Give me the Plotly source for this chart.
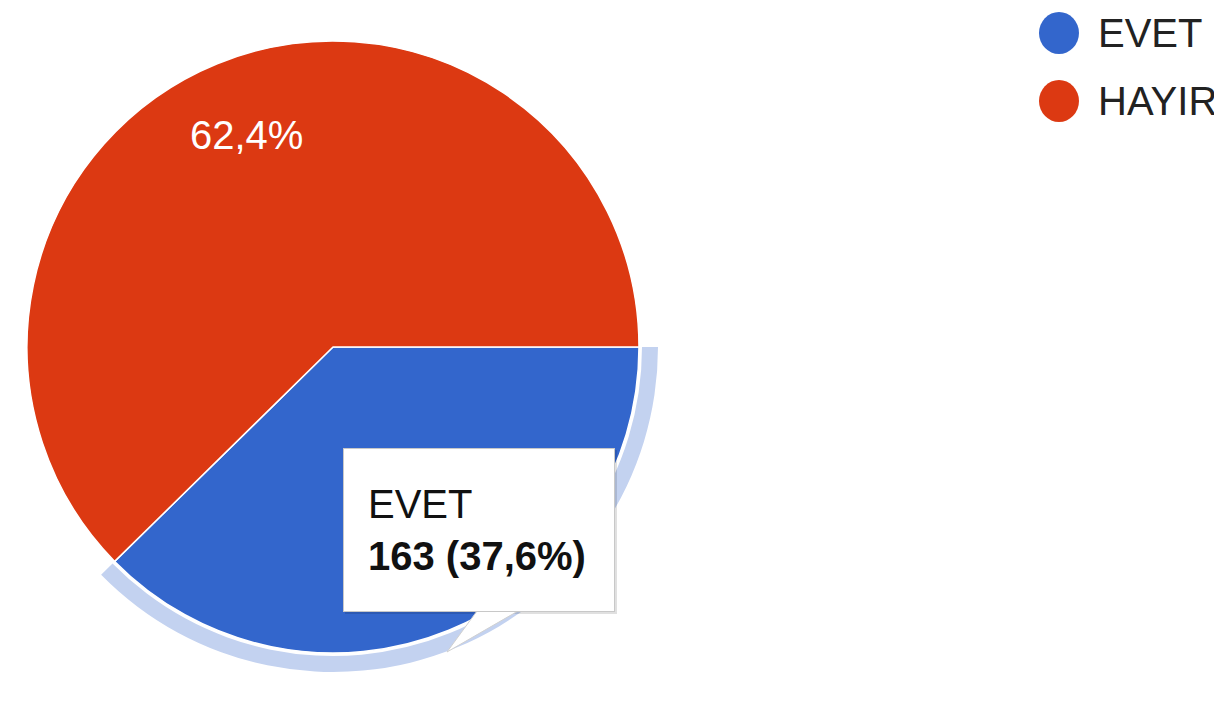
import math
import plotly.graph_objects as go

categories = ["EVET", "HAYIR"]
counts = [163, 270]
colors = ["#3366cc", "#dc3912"]
ring_color = "#c3d2f0"
tooltip_category = "EVET"
label_categories = ["HAYIR"]

W, H = 1222, 707
OFF = 8  # default page body margin
FW, FH = W - OFF, H - OFF

def px_x(v):
    return (v - OFF) / FW

def px_y(v):
    return 1 - (v - OFF) / FH

# pie geometry (page pixels)
cx, cy = 333, 347
R_main = 306
R_ring_in = 309
R_ring_out = 325

ROT = 90  # first slice starts at 3 o'clock, clockwise

fig = go.Figure()

# hover ring (highlight for EVET)
fig.add_trace(go.Pie(
    labels=categories,
    values=counts,
    sort=False,
    direction="clockwise",
    rotation=ROT,
    hole=R_ring_in / R_ring_out,
    marker=dict(colors=[ring_color if c == tooltip_category else "rgba(0,0,0,0)" for c in categories],
                line=dict(width=0)),
    textinfo="none",
    hoverinfo="skip",
    showlegend=False,
    domain=dict(x=[px_x(cx - R_ring_out), px_x(cx + R_ring_out)],
                y=[px_y(cy + R_ring_out), px_y(cy - R_ring_out)]),
))

# main pie
fig.add_trace(go.Pie(
    labels=categories,
    values=counts,
    sort=False,
    direction="clockwise",
    rotation=ROT,
    marker=dict(colors=colors, line=dict(color="white", width=1.5)),
    textinfo="none",
    showlegend=False,
    domain=dict(x=[px_x(cx - R_main), px_x(cx + R_main)],
                y=[px_y(cy + R_main), px_y(cy - R_main)]),
))

font_family = "Arial, Liberation Sans, sans-serif"
shapes = []
annotations = []

# slice percentage labels, placed at each slice's mid-angle
total = sum(counts)
start = ROT
for cat, val in zip(categories, counts):
    span = val / total * 360
    mid = start + span / 2
    start += span
    if cat not in label_categories:
        continue
    f = 0.75
    lx = cx + math.sin(math.radians(mid)) * f * R_main
    ly = cy - math.cos(math.radians(mid)) * f * R_main
    txt = f"{val / total * 100:.1f}".replace(".", ",") + "%"
    annotations.append(dict(text=txt, xref="paper", yref="paper",
                            x=px_x(lx), y=px_y(ly), xanchor="center", yanchor="middle",
                            showarrow=False,
                            font=dict(family=font_family, size=40, color="white")))

# manual legend with circular markers
leg_y = [33, 101]
for cat, col, yy in zip(categories, colors, leg_y):
    shapes.append(dict(type="circle", xref="paper", yref="paper",
                       x0=px_x(1039), x1=px_x(1079), y0=px_y(yy + 21), y1=px_y(yy - 21),
                       fillcolor=col, line=dict(width=0)))
    annotations.append(dict(text=cat, xref="paper", yref="paper",
                            x=px_x(1096), y=px_y(yy), xanchor="left", yanchor="middle",
                            showarrow=False,
                            font=dict(family=font_family, size=40, color="#222222")))

# tooltip
idx = categories.index(tooltip_category)
pct = f"{counts[idx] / total * 100:.1f}".replace(".", ",")
tip_text = f"{tooltip_category}<br><b>{counts[idx]} ({pct}%)</b>"

# tooltip shadow
shapes.append(dict(type="rect", xref="paper", yref="paper",
                   x0=px_x(345), x1=px_x(617), y0=px_y(614), y1=px_y(450),
                   fillcolor="rgba(0,0,0,0.12)", line=dict(width=0), layer="above"))
# tooltip tail
shapes.append(dict(type="path", xref="paper", yref="paper",
                   path=f"M {px_x(477)},{px_y(611)} L {px_x(447)},{px_y(652)} L {px_x(518)},{px_y(611)} Z",
                   fillcolor="white", line=dict(color="#d0d0d0", width=1), layer="above"))

annotations.append(dict(text=tip_text, xref="paper", yref="paper",
                        x=px_x(343), y=px_y(448), xanchor="left", yanchor="top",
                        showarrow=False, align="left", valign="middle",
                        width=222, height=114, borderpad=24,
                        bgcolor="white", bordercolor="#c8c8c8", borderwidth=1,
                        font=dict(family=font_family, size=40, color="#111111")))

fig.update_layout(
    width=FW, height=FH,
    margin=dict(l=0, r=0, t=0, b=0),
    paper_bgcolor="white",
    plot_bgcolor="white",
    separators=",.",
    showlegend=False,
    shapes=shapes,
    annotations=annotations,
)

fig.write_html("out.html")
